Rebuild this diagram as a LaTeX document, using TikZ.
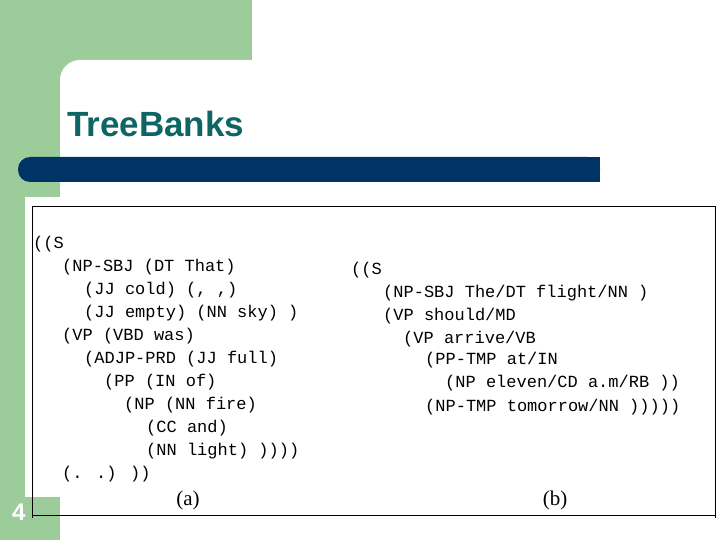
\documentclass[tikz,border=0pt]{standalone}
\usepackage{fontspec}
\setmainfont{Liberation Serif}
\newfontfamily\sansb{Liberation Sans}
\newfontfamily\monof{Liberation Mono}
\definecolor{grn}{HTML}{9CCC9A}
\definecolor{teal1}{HTML}{0E6664}
\definecolor{navy}{HTML}{003366}
\begin{document}
\begin{tikzpicture}[x=1pt,y=-1pt,
  code/.style={anchor=base west,inner sep=0pt,font=\monof\fontsize{17}{17}\selectfont},
  captxt/.style={anchor=base,inner sep=0pt,font=\fontsize{21}{21}\selectfont}]
\useasboundingbox (0,0) rectangle (720,540);
\fill[white] (0,0) rectangle (720,540);
\fill[grn] (0,0) rectangle (252,100);
\fill[grn] (0,0) rectangle (60,540);
\fill[white,rounded corners=20pt] (60,60) rectangle (740,560);
\fill[navy,rounded corners=12pt] (18,157) rectangle (600,182);
\fill[navy] (100,157) rectangle (600,182);
\node[anchor=base west,inner sep=0pt,text=teal1,font=\sansb\bfseries\fontsize{35}{35}\selectfont] (title) at (67,137) {TreeBanks};
\fill[white] (25,197) rectangle (720,497);
\draw[line width=0.8pt] (32,206) -- (715,206) -- (715,518);
\draw[line width=0.8pt] (32,206) -- (32,518);
\draw[line width=0.8pt] (32,515) -- (715,515);
\node[anchor=base west,inner sep=0pt,text=white,font=\sansb\bfseries\fontsize{24}{24}\selectfont] (num) at (12,520) {4};
\node[code] (l1) at (33,248) {((S};
\node[code] (l2) at (62,271) {(NP-SBJ (DT That)};
\node[code] (l3) at (84,294) {(JJ cold) (, ,)};
\node[code] (l4) at (84,317) {(JJ empty) (NN sky) )};
\node[code] (l5) at (62,340) {(VP (VBD was)};
\node[code] (l6) at (84,363) {(ADJP-PRD (JJ full)};
\node[code] (l7) at (104,386) {(PP (IN of)};
\node[code] (l8) at (124,409) {(NP (NN fire)};
\node[code] (l9) at (146,432) {(CC and)};
\node[code] (l10) at (146,455) {(NN light) ))))};
\node[code] (l11) at (62,478) {(. .) ))};
\node[code] (r1) at (351,274) {((S};
\node[code] (r2) at (383,297) {(NP-SBJ The/DT flight/NN )};
\node[code] (r3) at (383,320) {(VP should/MD};
\node[code] (r4) at (403,343) {(VP arrive/VB};
\node[code] (r5) at (425,364) {(PP-TMP at/IN};
\node[code] (r6) at (445,387) {(NP eleven/CD a.m/RB ))};
\node[code] (r7) at (425,411) {(NP-TMP tomorrow/NN )))))};
\node[captxt] (ca) at (188,505) {(a)};
\node[captxt] (cb) at (555,505) {(b)};
\end{tikzpicture}
\end{document}
